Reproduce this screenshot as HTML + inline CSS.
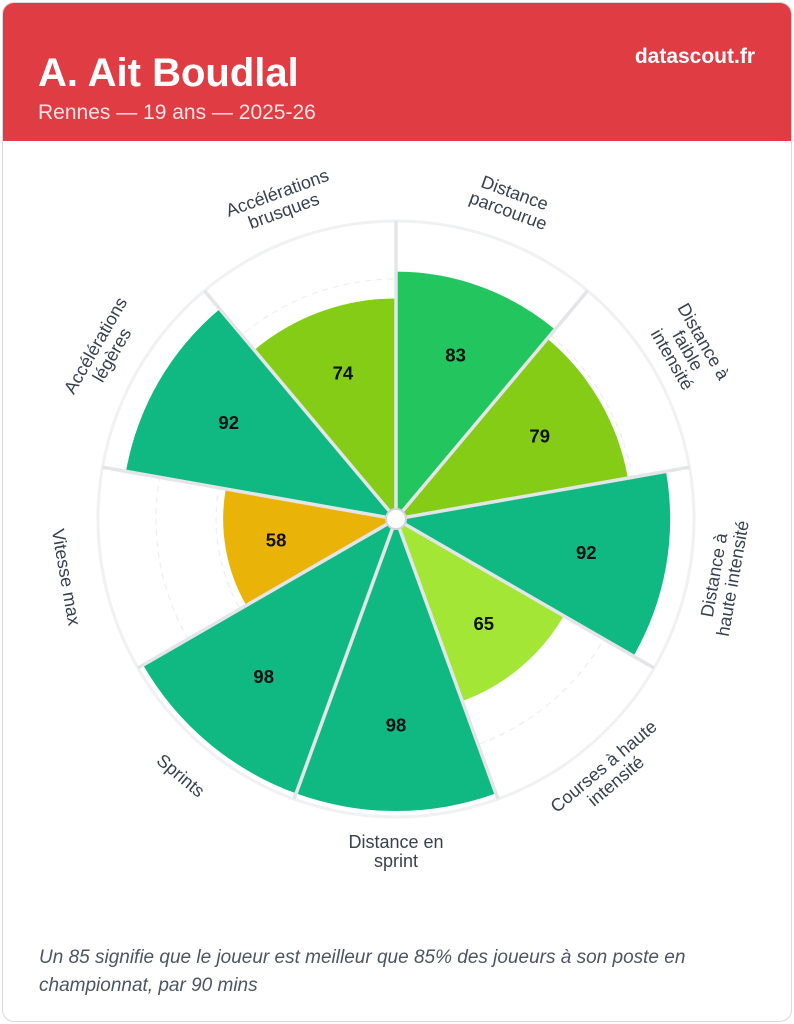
<!DOCTYPE html>
<html><head><meta charset="utf-8"><style>
body{margin:0;width:794px;height:1024px;background:#fff;font-family:"Liberation Sans",sans-serif;overflow:hidden}
.card{position:absolute;left:2px;top:2px;width:788px;height:1018px;border:1px solid #d6d9de;border-radius:12px;overflow:hidden;background:#fff}
.hdr{position:absolute;left:0;top:0;width:788px;height:138px;background:#e03c44;color:#fff}
.t{position:absolute;left:35px;top:48px;font-size:40px;font-weight:bold}
.s{position:absolute;left:35px;top:98px;font-size:21px;color:#fde3e4}
.b{position:absolute;right:36px;top:42px;font-size:21px;font-weight:bold}
.f{position:absolute;left:36px;top:941px;font-size:19px;font-style:italic;color:#4b5563;line-height:28px;width:720px}
svg{position:absolute;left:0;top:0}
</style></head><body>
<div class="card">
<div class="hdr"><div class="t">A. Ait Boudlal</div><div class="s">Rennes — 19 ans — 2025-26</div><div class="b">datascout.fr</div></div>
<div class="f">Un 85 signifie que le joueur est meilleur que 85% des joueurs à son poste en championnat, par 90 mins</div>
</div>
<svg width="794" height="1024" viewBox="0 0 794 1024">
<g id="bg"></g>
<g font-family="Liberation Sans,sans-serif" font-size="18" fill="#374151" text-anchor="middle">
<text transform="translate(510.6,204.2) rotate(20)"><tspan x="0" y="-6">Distance</tspan><tspan x="0" y="13">parcourue</tspan></text>
<text transform="translate(686.1,351.5) rotate(60)"><tspan x="0" y="-14">Distance à</tspan><tspan x="0" y="4">faible</tspan><tspan x="0" y="22">intensité</tspan></text>
<text transform="translate(725.9,577.2) rotate(-80)"><tspan x="0" y="-6">Distance à</tspan><tspan x="0" y="13">haute intensité</tspan></text>
<text transform="translate(611.3,775.6) rotate(-40)"><tspan x="0" y="-6">Courses à haute</tspan><tspan x="0" y="13">intensité</tspan></text>
<text transform="translate(396,854)"><tspan x="0" y="-6">Distance en</tspan><tspan x="0" y="13">sprint</tspan></text>
<text transform="translate(180.7,775.6) rotate(40)"><tspan x="0" y="6">Sprints</tspan></text>
<text transform="translate(66.1,577.2) rotate(80)"><tspan x="0" y="6">Vitesse max</tspan></text>
<text transform="translate(105.9,351.5) rotate(-60)"><tspan x="0" y="-6">Accélérations</tspan><tspan x="0" y="13">légères</tspan></text>
<text transform="translate(281.4,204.2) rotate(-20)"><tspan x="0" y="-6">Accélérations</tspan><tspan x="0" y="13">brusques</tspan></text>
</g>
<g font-family="Liberation Sans,sans-serif" font-size="18.5" font-weight="bold" fill="#111" text-anchor="middle" dominant-baseline="central">
<text x="455.6" y="355.2">83</text><text x="539.7" y="436.1">79</text><text x="586.3" y="552.5">92</text>
<text x="483.8" y="623.6">65</text><text x="396" y="724.8">98</text><text x="263.7" y="676.6">98</text>
<text x="276.1" y="540.2">58</text><text x="228.7" y="422.4">92</text><text x="342.9" y="373">74</text>
</g>
</svg>
<script>
var cx=396,cy=519,R=298,ns="http://www.w3.org/2000/svg",g=document.getElementById('bg');
var vals=[83,79,92,65,98,98,58,92,74],cols=['#22c55e','#84cc16','#10b981','#a3e635','#10b981','#10b981','#eab308','#10b981','#84cc16'];
function el(t,a){var e=document.createElementNS(ns,t);for(var k in a)e.setAttribute(k,a[k]);g.appendChild(e);return e}
function pt(r,a){a=a*Math.PI/180;return [cx+r*Math.sin(a),cy-r*Math.cos(a)]}
el('circle',{cx:cx,cy:cy,r:R,fill:'#fff',stroke:'#f0f1f3','stroke-width':3});
el('circle',{cx:cx,cy:cy,r:240,fill:'none',stroke:'#eceef1','stroke-width':1.2,'stroke-dasharray':'6 5'});
el('circle',{cx:cx,cy:cy,r:180,fill:'none',stroke:'#eceef1','stroke-width':1.2,'stroke-dasharray':'6 5'});
for(var i=0;i<9;i++){var r=vals[i]*2.98,a0=i*40,a1=a0+40,p0=pt(r,a0),p1=pt(r,a1);
el('path',{d:'M'+cx+','+cy+'L'+p0+'A'+r+','+r+' 0 0 1 '+p1+'Z',fill:cols[i]});}
for(var i=0;i<9;i++){var p=pt(R,i*40);el('line',{x1:cx,y1:cy,x2:p[0],y2:p[1],stroke:'#e3e5e9','stroke-width':3.5});}
el('circle',{cx:cx,cy:cy,r:10,fill:'#fff',stroke:'#d1d5db','stroke-width':2});
</script>
</body></html>
